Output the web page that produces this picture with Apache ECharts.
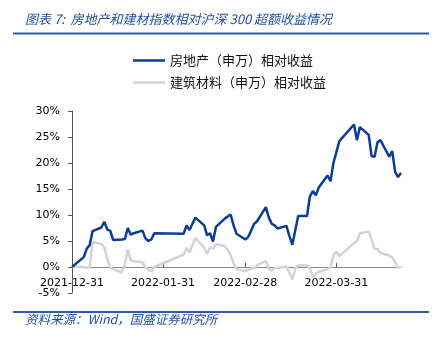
<!DOCTYPE html>
<html>
<head>
<meta charset="utf-8">
<script src="https://cdn.jsdelivr.net/npm/echarts/dist/echarts.min.js"></script>
<style>
html,body{margin:0;padding:0;background:#fff;}
#chart{width:444px;height:338px;}
</style>
</head>
<body>
<div id="chart"></div>
<script>
// ---- data ----
const dates = [
  '2021-12-31',
  '2022-01-04','2022-01-05','2022-01-06','2022-01-07',
  '2022-01-10','2022-01-11','2022-01-12','2022-01-13','2022-01-14',
  '2022-01-17','2022-01-18','2022-01-19','2022-01-20','2022-01-21',
  '2022-01-24','2022-01-25','2022-01-26','2022-01-27','2022-01-28',
  '2022-02-07','2022-02-08','2022-02-09','2022-02-10','2022-02-11',
  '2022-02-14','2022-02-15','2022-02-16','2022-02-17','2022-02-18',
  '2022-02-21','2022-02-22','2022-02-23','2022-02-24','2022-02-25',
  '2022-02-28',
  '2022-03-01','2022-03-02','2022-03-03','2022-03-04',
  '2022-03-07','2022-03-08','2022-03-09','2022-03-10','2022-03-11',
  '2022-03-14','2022-03-15','2022-03-16','2022-03-17','2022-03-18',
  '2022-03-21','2022-03-22','2022-03-23','2022-03-24','2022-03-25',
  '2022-03-28','2022-03-29','2022-03-30','2022-03-31',
  '2022-04-01',
  '2022-04-06','2022-04-07','2022-04-08',
  '2022-04-11','2022-04-12','2022-04-13','2022-04-14','2022-04-15',
  '2022-04-18','2022-04-19','2022-04-20','2022-04-21','2022-04-22'
];
// 房地产（申万）相对收益, %
const realEstate = [
  0.0,
  1.9, 3.5, 4.2, 6.9,
  7.6, 8.7, 7.2, 7.0, 5.2,
  5.3, 5.4, 7.5, 6.2, 6.5,
  7.0, 5.5, 5.0, 5.3, 6.5,
  6.4, 8.0, 7.1, 8.3, 9.5,
  8.0, 6.1, 6.5, 4.9, 7.7,
  9.3, 9.7, 10.1, 8.0, 6.4,
  5.3,
  5.8, 7.0, 8.3, 8.8,
  11.5, 9.5, 8.3, 8.0, 7.4,
  7.9, 6.0, 4.3, 7.0, 9.8,
  9.8, 13.6, 14.6, 13.8, 15.3,
  17.6, 16.5, 20.0, 22.1,
  24.2,
  27.4, 24.4, 26.9,
  25.4, 21.3, 21.2, 24.0, 24.4,
  21.2, 22.3, 18.3, 17.3, 18.1
];
// 建筑材料（申万）相对收益, %
const buildingMaterials = [
  0.0,
  0.0, -0.1, 0.0, 4.8,
  4.4, 3.8, 1.6, -0.1, -0.4,
  -1.0, 0.5, 3.4, 1.3, 1.1,
  0.9, -0.1, -0.5, -0.8, 0.0,
  2.4, 3.7, 2.8, 4.2, 5.6,
  3.7, 2.5, 3.8, 3.5, 4.4,
  4.0, 3.3, 2.3, 0.7, -0.4,
  -0.8,
  -0.5, -0.3, -0.2, 0.3,
  1.2, -0.3, -0.7, -0.2, -0.2,
  0.1, -1.0, -2.4, -0.3, 0.3,
  0.3, -0.3, -2.0, -1.3, -0.9,
  -0.4, -0.1, 2.3, 2.9,
  2.1,
  4.6, 5.0, 6.5,
  6.8, 5.2, 3.5, 3.4, 2.7,
  2.2, 1.8, 0.9, -0.2, 0.1
];
const tickDates = ['2021-12-31','2022-01-31','2022-02-28','2022-03-31'];
const seriesNames = ['房地产（申万）相对收益','建筑材料（申万）相对收益'];
const yMin = -5, yMax = 30, yStep = 5;
const titleText = '图表 7:  房地产和建材指数相对沪深 300 超额收益情况';
const sourceText = '资料来源：Wind，国盛证券研究所';

// ---- helpers ----
function ts(s){ const p = s.split('-').map(Number); return new Date(p[0], p[1]-1, p[2]).getTime(); }
function pad(n){ return (n<10?'0':'')+n; }
function fmt(v){ const d = new Date(v); return d.getFullYear()+'-'+pad(d.getMonth()+1)+'-'+pad(d.getDate()); }

const chart = echarts.init(document.getElementById('chart'), null, {renderer:'canvas'});
const blue = '#0c3d92';
const gray = '#d3d3d3';
const headBlue = '#1f4f9f';
const tickTs = tickDates.map(ts);

const gridTop = 111, gridBottom = 45, H = 338;
const plotH = H - gridTop - gridBottom;
// shift the x axis (line, ticks, labels) up from the plot bottom to the zero level
const zeroShift = plotH * (0 - yMin) / (yMax - yMin);

chart.setOption({
  backgroundColor:'#ffffff',
  animation:false,
  textStyle:{fontFamily:'DejaVu Sans'},
  grid:{left:72, right:43, top:gridTop, bottom:gridBottom, containLabel:false},
  legend:{
    orient:'vertical', left:128, top:48,
    icon:'rect', itemWidth:32, itemHeight:2.5, itemGap:7,
    data:seriesNames,
    textStyle:{fontFamily:'Noto Sans CJK SC', fontSize:13, color:'#111', lineHeight:15}
  },
  xAxis:{
    type:'value',
    min:ts(dates[0]), max:ts(dates[dates.length-1]),
    offset:-zeroShift,
    axisLine:{onZero:false, lineStyle:{color:'#8a8a8a', width:1}},
    axisTick:{show:true, inside:true, length:4, lineStyle:{color:'#555'}, customValues:tickTs},
    axisLabel:{customValues:tickTs, formatter:function(v){return fmt(v);}, color:'#000', fontSize:11, fontFamily:'DejaVu Sans', margin:11, hideOverlap:false},
    splitLine:{show:false}
  },
  yAxis:{
    type:'value', min:yMin, max:yMax, interval:yStep,
    axisLine:{show:true, lineStyle:{color:'#555', width:1}},
    axisTick:{show:true, length:4, lineStyle:{color:'#555'}},
    axisLabel:{formatter:'{value}%', color:'#000', fontSize:11, fontFamily:'DejaVu Sans', margin:12},
    splitLine:{show:false}
  },
  series:[
    {name:seriesNames[0], type:'line', symbol:'none', showSymbol:false, z:3,
     lineStyle:{color:blue, width:2.5}, itemStyle:{color:blue},
     data:dates.map((d,i)=>[ts(d), realEstate[i]])},
    {name:seriesNames[1], type:'line', symbol:'none', showSymbol:false, z:2,
     lineStyle:{color:gray, width:2.5}, itemStyle:{color:gray},
     data:dates.map((d,i)=>[ts(d), buildingMaterials[i]])}
  ],
  graphic:[
    {type:'text', left:25, top:13, style:{text:titleText, fill:headBlue, font:'italic 13px "Noto Sans CJK SC"'}},
    {type:'line', shape:{x1:13, y1:33.5, x2:429, y2:33.5}, style:{stroke:'#2a5aa8', lineWidth:2}},
    {type:'line', shape:{x1:13, y1:312, x2:429, y2:312}, style:{stroke:'#2a5aa8', lineWidth:2}},
    {type:'text', left:25, top:313, style:{text:sourceText, fill:headBlue, font:'italic 12.5px "Noto Sans CJK SC"'}}
  ]
});
</script>
</body>
</html>
